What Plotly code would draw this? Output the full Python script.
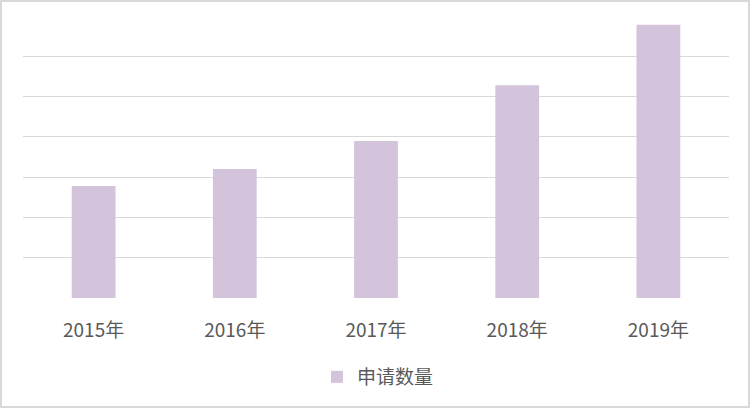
import plotly.graph_objects as go

categories = ["2015年", "2016年", "2017年", "2018年", "2019年"]
values = [139, 160, 195, 264, 339]
series_name = "申请数量"
grid_vals = [0, 50, 100, 150, 200, 250, 300]

W, H = 752, 408
ml, mr, mt, mb = 23, 23, 16, 110
pw, ph = W - ml - mr, H - mt - mb

fig = go.Figure()
fig.add_trace(go.Bar(
    x=categories, y=values, name=series_name,
    marker=dict(color="#D3C4DC", line=dict(width=0)),
    showlegend=True,
))

font_fam = "Microsoft YaHei, Noto Sans CJK SC, sans-serif"

fig.update_layout(
    width=W, height=H,
    margin=dict(l=ml, r=mr, t=mt, b=mb, pad=0),
    paper_bgcolor="white", plot_bgcolor="white",
    bargap=0.69,
    font=dict(family=font_fam, size=19, color="#595959"),
    showlegend=True,
    legend=dict(orientation="h", x=(317 - ml) / pw, xanchor="left", y=(298 - 377) / ph, yanchor="middle",
                font=dict(size=19, color="#595959"), itemwidth=30,
                bgcolor="rgba(0,0,0,0)"),
    xaxis=dict(showgrid=False, showline=False, zeroline=False, ticks="",
               tickfont=dict(size=19, color="#595959"), ticklabelstandoff=19),
    yaxis=dict(range=[0, 350], tickvals=grid_vals, showticklabels=False, showgrid=True,
               gridcolor="#D9D9D9", gridwidth=1, zeroline=False, showline=False, ticks=""),
    shapes=[dict(type="rect", xref="paper", yref="paper",
                 x0=(1 - ml) / pw, x1=(749 - ml) / pw,
                 y0=-(mb - 1) / ph, y1=1 + (mt - 1) / ph,
                 line=dict(color="#D9D9D9", width=2), fillcolor="rgba(0,0,0,0)", layer="above")],
)

fig.write_html("out.html", config={"displayModeBar": False},
               post_script="document.body.style.margin='0';document.body.style.overflow='hidden';")
